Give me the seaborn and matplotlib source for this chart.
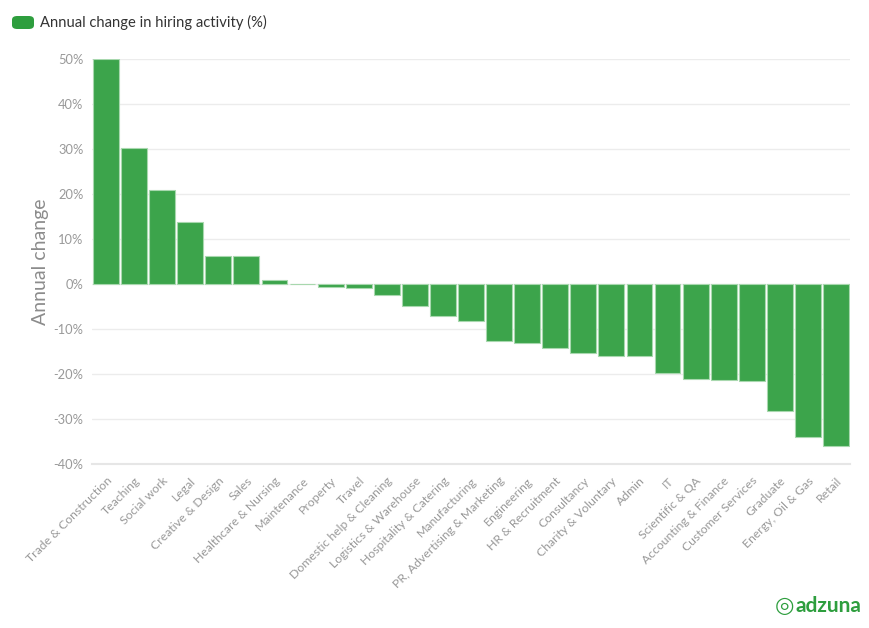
import matplotlib
matplotlib.use('Agg')
import matplotlib.pyplot as plt
import seaborn as sns
import pandas as pd
from matplotlib.patches import FancyBboxPatch
from matplotlib.ticker import FuncFormatter

# DADOS
categorias = [
    'Trade & Construction', 'Teaching', 'Social work', 'Legal', 'Creative & Design',
    'Sales', 'Healthcare & Nursing', 'Maintenance', 'Property', 'Travel',
    'Domestic help & Cleaning', 'Logistics & Warehouse', 'Hospitality & Catering',
    'Manufacturing', 'PR, Advertising & Marketing', 'Engineering', 'HR & Recruitment',
    'Consultancy', 'Charity & Voluntary', 'Admin', 'IT', 'Scientific & QA',
    'Accounting & Finance', 'Customer Services', 'Graduate', 'Energy, Oil & Gas', 'Retail',
]
variacao = [
    50.0, 30.2, 20.9, 13.8, 6.2,
    6.2, 0.9, 0.1, -0.6, -0.8,
    -2.5, -4.8, -7.1,
    -8.2, -12.7, -13.2, -14.2,
    -15.3, -15.9, -15.9, -19.8, -21.0,
    -21.4, -21.6, -28.3, -33.9, -36.1,
]
serie = 'Annual change in hiring activity (%)'
yticks = [-40, -30, -20, -10, 0, 10, 20, 30, 40, 50]

df = pd.DataFrame({'Categoria': categorias, 'Variacao': variacao})

sns.set_style('white')
plt.rcParams['font.family'] = ['Lato', 'DejaVu Sans']

verde = '#3ca44b'
cinza = '#999999'

fig = plt.figure(figsize=(8.7, 6.28), dpi=100)
ax = fig.add_axes([92 / 870, 1 - 464 / 628, (850 - 92) / 870, (464 - 59) / 628])

sns.barplot(data=df, x='Categoria', y='Variacao', color=verde, saturation=1,
            width=0.92, edgecolor='#a8d8ae', linewidth=0.8, ax=ax)

ax.set_ylim(-40, 50)
ax.set_xlim(-0.5, len(categorias) - 0.5)
ax.set_yticks(yticks)
ax.yaxis.set_major_formatter(FuncFormatter(lambda v, p: f'{int(v)}%'))
ax.grid(axis='y', color='#ececec', linewidth=1)
ax.set_axisbelow(True)

for lado in ['top', 'right', 'left']:
    ax.spines[lado].set_visible(False)
ax.spines['bottom'].set_color('#e6e6e6')
ax.spines['bottom'].set_linewidth(1.5)

ax.tick_params(axis='y', length=0, labelsize=9.3, labelcolor=cinza, pad=6)
ax.tick_params(axis='x', length=6, color='#e6e6e6', labelsize=8.8, labelcolor=cinza, pad=2)
plt.setp(ax.get_xticklabels(), rotation=45, ha='right', rotation_mode='anchor')

ax.set_xlabel('')
ax.set_ylabel('Annual change', fontsize=14, color='#8c8c8c', labelpad=3)

# LEGENDA
fig.patches.append(FancyBboxPatch((12 / 870, 1 - 29 / 628), 22 / 870, 13 / 628,
                                  boxstyle='round,pad=0,rounding_size=0.006',
                                  transform=fig.transFigure, facecolor='#2e9e3e',
                                  edgecolor='none'))
fig.text(40 / 870, 1 - 22 / 628, serie, fontsize=10.6, color='#333333', va='center', ha='left')

# LOGO
fig.text(796 / 870, 1 - 606 / 628, 'adzuna', fontsize=15, fontweight='bold',
         color='#2e9e3e', va='center', ha='left')
fig.text(784 / 870, 1 - 606 / 628, '◎', fontsize=16, fontweight='bold',
         color='#2e9e3e', va='center', ha='center', family='DejaVu Sans')

fig.savefig('out.png', dpi=100)
